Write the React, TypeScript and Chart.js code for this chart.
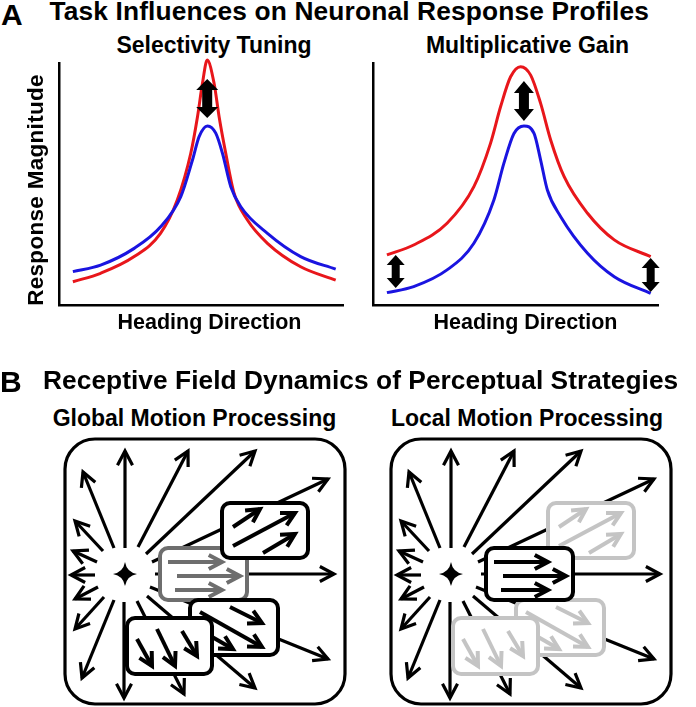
import React, { useEffect, useRef } from "react";
import { Chart, registerables } from "chart.js";

Chart.register(...registerables);

const FONT = '"Liberation Sans", Arial, Helvetica, sans-serif';
const RED = "#e8161b";
const BLUE = "#1a14e0";
const GRAY_DARK = "#6e6e6e";
const GRAY_LIGHT = "#c4c4c4";

// ---------------- Panel A data ----------------
const HEADING_MIN = -199;
const HEADING_MAX = 190;
const RESPONSE_MIN = 0;
const RESPONSE_MAX = 100;

// Selectivity tuning
const tuningRedHeading = [-180, -142, -96, -60, -37, -18.5, -9.3, -2.5, 4, 13.4, 20.3, 29.4, 40.8, 59.1, 86.5, 132, 180];
const tuningRedResponse = [9.6, 13.1, 20.0, 29.6, 43.4, 62.7, 77.8, 91.6, 101.2, 91.6, 77.8, 62.7, 46.2, 35.1, 25.5, 15.8, 10.3];
const tuningBlueHeading = [-180, -142, -96, -59.5, -32.2, -16.2, -7.1, 4.4, 15.7, 24.9, 36.3, 50, 86.5, 132, 180];
const tuningBlueResponse = [13.8, 16.5, 23.4, 32.4, 44.8, 59.9, 69.6, 74.0, 71.0, 62.7, 48.9, 40.6, 29.6, 20.0, 14.8];
const tuningArrowHeading = [4];
const tuningArrowTop = [93.4];
const tuningArrowBottom = [77.3];

// Multiplicative gain
const gainRedHeading = [-180, -143.5, -97.9, -61.3, -38.6, -24.9, -11.2, 2.5, 16.2, 29.8, 43.5, 61.9, 93.8, 130.3, 180];
const gainRedResponse = [20.7, 24.8, 33.8, 48.9, 66.8, 81.9, 94.3, 98.5, 95.0, 83.3, 68.2, 53.0, 37.9, 26.9, 20.0];
const gainBlueHeading = [-180, -143.5, -97.9, -61.3, -34, -20.3, -6.6, 7.1, 20.8, 29.8, 39, 57.2, 93.8, 130.3, 180];
const gainBlueResponse = [5.1, 7.6, 14.5, 25.5, 43.4, 58.6, 70.9, 74.0, 70.9, 59.9, 47.5, 36.5, 21.4, 11.7, 4.8];
const gainArrowHeading = [-168, 7, 180];
const gainArrowTop = [20.7, 92.6, 19.4];
const gainArrowBottom = [7.0, 76.0, 5.4];

// ---------------- Panel B data (diagram units) ----------------
const FIELD_W = 290;
const FIELD_H = 271;
const starCenter = [65, 138];
const frameRect = [5, 3, 285, 268];
// [tailX, tailY, tipX, tipY]
const radialArrows = [
  [65, 112, 65, 15],
  [54, 112, 23, 36],
  [43, 115, 15, 85],
  [37, 126, 13, 115],
  [35, 139, 11, 139],
  [38, 151, 15, 163],
  [44, 161, 15, 193],
  [54, 164, 22, 242],
  [64, 166, 64, 262],
  [77, 165, 124, 258],
  [87, 160, 195, 252],
  [90, 151, 268, 223],
  [95, 138, 274, 138],
  [92, 126, 268, 43],
  [86, 118, 195, 15],
  [78, 111, 128, 15],
];
const middleRect = [100, 112, 187, 164];
const middleArrows = [
  [108, 126, 162, 126],
  [117, 140, 180, 140],
  [115, 154, 162, 154],
];
const upperRect = [162, 67, 248, 122];
const upperArrows = [
  [173, 91, 200, 73],
  [173, 110, 235, 77],
  [203, 117, 235, 98],
];
const lowerRightRect = [130, 164, 218, 219];
const lowerRightArrows = [
  [170, 171, 202, 187],
  [140, 176, 202, 211],
  [140, 194, 173, 213],
];
const lowerLeftRect = [67, 182, 152, 238];
const lowerLeftArrows = [
  [77, 203, 92, 230],
  [97, 193, 115, 230],
  [122, 195, 137, 220],
];

// ---------------- helpers ----------------
function roundRectPath(ctx: CanvasRenderingContext2D, x0: number, y0: number, x1: number, y1: number, r: number) {
  ctx.beginPath();
  ctx.moveTo(x0 + r, y0);
  ctx.lineTo(x1 - r, y0);
  ctx.arcTo(x1, y0, x1, y0 + r, r);
  ctx.lineTo(x1, y1 - r);
  ctx.arcTo(x1, y1, x1 - r, y1, r);
  ctx.lineTo(x0 + r, y1);
  ctx.arcTo(x0, y1, x0, y1 - r, r);
  ctx.lineTo(x0, y0 + r);
  ctx.arcTo(x0, y0, x0 + r, y0, r);
  ctx.closePath();
}

function Txt(props: { text: string; x?: number; cx?: number; baseline: number; size: number; ls?: number }) {
  const { text, x, cx, baseline, size, ls = 0 } = props;
  const style: React.CSSProperties = {
    position: "absolute",
    top: baseline - 0.8465 * size,
    fontFamily: FONT,
    fontWeight: 700,
    fontSize: size,
    lineHeight: `${size}px`,
    letterSpacing: ls,
    whiteSpace: "nowrap",
    color: "#000",
  };
  if (cx !== undefined) {
    style.left = cx;
    style.transform = "translateX(-50%)";
  } else {
    style.left = x;
  }
  return <div style={style}>{text}</div>;
}

// ---------------- Panel A chart ----------------
function ResponseChart(props: {
  left: number;
  top: number;
  width: number;
  height: number;
  pad: { left: number; top: number; right: number; bottom: number };
  redX: number[];
  redY: number[];
  blueX: number[];
  blueY: number[];
  arrowX: number[];
  arrowTop: number[];
  arrowBottom: number[];
  headWidth: number[];
  headLen: number[];
  shaft: number[];
}) {
  const ref = useRef<HTMLCanvasElement>(null);
  useEffect(() => {
    const p = props;
    const arrowPlugin = {
      id: "doubleArrows",
      afterDatasetsDraw(chart: any) {
        const { ctx, scales } = chart;
        const xs = scales.x;
        const ys = scales.y;
        ctx.save();
        ctx.fillStyle = "#000";
        p.arrowX.forEach((hx, i) => {
          const x = xs.getPixelForValue(hx);
          const yt = ys.getPixelForValue(p.arrowTop[i]);
          const yb = ys.getPixelForValue(p.arrowBottom[i]);
          const W = p.headWidth[i] / 2;
          const L = p.headLen[i];
          const S = p.shaft[i] / 2;
          ctx.beginPath();
          ctx.moveTo(x, yt);
          ctx.lineTo(x + W, yt + L);
          ctx.lineTo(x + S, yt + L);
          ctx.lineTo(x + S, yb - L);
          ctx.lineTo(x + W, yb - L);
          ctx.lineTo(x, yb);
          ctx.lineTo(x - W, yb - L);
          ctx.lineTo(x - S, yb - L);
          ctx.lineTo(x - S, yt + L);
          ctx.lineTo(x - W, yt + L);
          ctx.closePath();
          ctx.fill();
        });
        ctx.restore();
      },
    };
    const chart = new Chart(ref.current as HTMLCanvasElement, {
      type: "line",
      data: {
        datasets: [
          {
            label: "Task B",
            data: p.blueX.map((x, i) => ({ x, y: p.blueY[i] })),
            borderColor: BLUE,
            borderWidth: 3,
            pointRadius: 0,
            cubicInterpolationMode: "monotone",
            clip: false,
          } as any,
          {
            label: "Task A",
            data: p.redX.map((x, i) => ({ x, y: p.redY[i] })),
            borderColor: RED,
            borderWidth: 3,
            pointRadius: 0,
            cubicInterpolationMode: "monotone",
            clip: false,
          } as any,
        ],
      },
      options: {
        responsive: false,
        animation: false,
        devicePixelRatio: 1,
        events: [],
        layout: { padding: p.pad },
        plugins: { legend: { display: false }, tooltip: { enabled: false }, title: { display: false } },
        scales: {
          x: {
            type: "linear",
            min: HEADING_MIN,
            max: HEADING_MAX,
            grid: { display: false, drawTicks: false },
            ticks: { display: false },
            border: { display: true, color: "#000", width: 2.5 },
          },
          y: {
            type: "linear",
            min: RESPONSE_MIN,
            max: RESPONSE_MAX,
            grid: { display: false, drawTicks: false },
            ticks: { display: false },
            border: { display: true, color: "#000", width: 2.5 },
          },
        },
      },
      plugins: [arrowPlugin],
    });
    return () => chart.destroy();
  }, []);
  return (
    <canvas
      ref={ref}
      width={props.width}
      height={props.height}
      style={{ position: "absolute", left: props.left, top: props.top, width: props.width, height: props.height }}
    />
  );
}

// ---------------- Panel B chart ----------------
const BOX_RECTS: Record<string, number[]> = {
  middle: middleRect,
  upper: upperRect,
  lowerRight: lowerRightRect,
  lowerLeft: lowerLeftRect,
};
const BOX_ARROWS: Record<string, number[][]> = {
  middle: middleArrows,
  upper: upperArrows,
  lowerRight: lowerRightArrows,
  lowerLeft: lowerLeftArrows,
};

function FieldChart(props: { left: number; top: number; order: string[]; colors: Record<string, string> }) {
  const ref = useRef<HTMLCanvasElement>(null);
  useEffect(() => {
    const datasets: any[] = [];
    let s = 0;
    const push = (seg: number[], color: string, width: number, head: number, extra: any) => {
      datasets.push({
        data: [
          { x: seg[0], y: seg[1] },
          { x: seg[2], y: seg[3] },
        ],
        showLine: true,
        borderColor: color,
        borderWidth: width,
        borderCapStyle: "butt",
        pointRadius: 0,
        pointHoverRadius: 0,
        order: -s,
        head,
        ...extra,
      });
      s++;
    };
    radialArrows.forEach((r) => push(r, "#000", 3.2, 16, {}));
    props.order.forEach((key) => {
      const color = props.colors[key];
      BOX_ARROWS[key].forEach((a, i) =>
        push(a, color, 4, 15, i === 0 ? { boxRect: BOX_RECTS[key], boxColor: color } : {})
      );
    });

    const diagramPlugin = {
      id: "fieldDiagram",
      beforeDatasetsDraw(chart: any) {
        const { ctx, scales } = chart;
        const x = scales.x;
        const y = scales.y;
        ctx.save();
        roundRectPath(
          ctx,
          x.getPixelForValue(frameRect[0]),
          y.getPixelForValue(frameRect[1]),
          x.getPixelForValue(frameRect[2]),
          y.getPixelForValue(frameRect[3]),
          30
        );
        ctx.lineWidth = 3.2;
        ctx.strokeStyle = "#000";
        ctx.stroke();
        ctx.restore();
      },
      beforeDatasetDraw(chart: any, args: any) {
        const ds: any = chart.data.datasets[args.index];
        if (!ds.boxRect) return;
        const { ctx, scales } = chart;
        const r = ds.boxRect;
        ctx.save();
        roundRectPath(
          ctx,
          scales.x.getPixelForValue(r[0]),
          scales.y.getPixelForValue(r[1]),
          scales.x.getPixelForValue(r[2]),
          scales.y.getPixelForValue(r[3]),
          8
        );
        ctx.fillStyle = "#fff";
        ctx.fill();
        ctx.lineWidth = 4;
        ctx.strokeStyle = ds.boxColor;
        ctx.stroke();
        ctx.restore();
      },
      afterDatasetDraw(chart: any, args: any) {
        const ds: any = chart.data.datasets[args.index];
        const pts = args.meta.data;
        if (!pts || pts.length < 2) return;
        const p0 = pts[0];
        const p1 = pts[1];
        const ang = Math.atan2(p1.y - p0.y, p1.x - p0.x);
        const a = (28 * Math.PI) / 180;
        const L = ds.head;
        const { ctx } = chart;
        ctx.save();
        ctx.beginPath();
        ctx.moveTo(p1.x - L * Math.cos(ang - a), p1.y - L * Math.sin(ang - a));
        ctx.lineTo(p1.x, p1.y);
        ctx.lineTo(p1.x - L * Math.cos(ang + a), p1.y - L * Math.sin(ang + a));
        ctx.lineWidth = ds.borderWidth;
        ctx.strokeStyle = ds.borderColor;
        ctx.lineJoin = "miter";
        ctx.lineCap = "butt";
        ctx.stroke();
        ctx.restore();
      },
      afterDatasetsDraw(chart: any) {
        const { ctx, scales } = chart;
        const cx = scales.x.getPixelForValue(starCenter[0]);
        const cy = scales.y.getPixelForValue(starCenter[1]);
        const R = 12;
        const w = 1.8;
        ctx.save();
        ctx.beginPath();
        ctx.moveTo(cx, cy - R);
        ctx.quadraticCurveTo(cx + w, cy - w, cx + R, cy);
        ctx.quadraticCurveTo(cx + w, cy + w, cx, cy + R);
        ctx.quadraticCurveTo(cx - w, cy + w, cx - R, cy);
        ctx.quadraticCurveTo(cx - w, cy - w, cx, cy - R);
        ctx.closePath();
        ctx.fillStyle = "#000";
        ctx.fill();
        ctx.restore();
      },
    };

    const chart = new Chart(ref.current as HTMLCanvasElement, {
      type: "scatter",
      data: { datasets },
      options: {
        responsive: false,
        animation: false,
        devicePixelRatio: 1,
        events: [],
        layout: { padding: 0 },
        plugins: { legend: { display: false }, tooltip: { enabled: false } },
        scales: {
          x: { type: "linear", min: 0, max: FIELD_W, display: false },
          y: { type: "linear", min: 0, max: FIELD_H, reverse: true, display: false },
        },
      },
      plugins: [diagramPlugin],
    });
    return () => chart.destroy();
  }, []);
  return (
    <canvas
      ref={ref}
      width={FIELD_W}
      height={FIELD_H}
      style={{ position: "absolute", left: props.left, top: props.top, width: FIELD_W, height: FIELD_H }}
    />
  );
}

export default function App() {
  return (
    <div
      style={{
        position: "absolute",
        left: 0,
        top: 0,
        width: 696,
        height: 707,
        overflow: "hidden",
        background: "#fff",
      }}
    >
      <Txt text="A" x={1} baseline={25} size={30} />
      <Txt text="Task Influences on Neuronal Response Profiles" x={49.5} baseline={20.5} size={26.3} ls={0.15} />
      <Txt text="Selectivity Tuning" cx={214} baseline={53} size={23} ls={0} />
      <Txt text="Multiplicative Gain" cx={527.5} baseline={53} size={23} ls={0} />

      <ResponseChart
        left={45}
        top={40}
        width={305}
        height={275}
        pad={{ left: 14, top: 23, right: 7, bottom: 10 }}
        redX={tuningRedHeading}
        redY={tuningRedResponse}
        blueX={tuningBlueHeading}
        blueY={tuningBlueResponse}
        arrowX={tuningArrowHeading}
        arrowTop={tuningArrowTop}
        arrowBottom={tuningArrowBottom}
        headWidth={[22]}
        headLen={[11]}
        shaft={[10]}
      />
      <ResponseChart
        left={360}
        top={40}
        width={310}
        height={275}
        pad={{ left: 13, top: 23, right: 12, bottom: 10 }}
        redX={gainRedHeading}
        redY={gainRedResponse}
        blueX={gainBlueHeading}
        blueY={gainBlueResponse}
        arrowX={gainArrowHeading}
        arrowTop={gainArrowTop}
        arrowBottom={gainArrowBottom}
        headWidth={[18, 20, 18]}
        headLen={[10, 12, 10]}
        shaft={[8, 10, 8]}
      />

      <div
        style={{
          position: "absolute",
          left: 36,
          top: 190,
          transform: "translate(-50%, -50%) rotate(-90deg)",
          fontFamily: FONT,
          fontWeight: 700,
          fontSize: 22.5,
          lineHeight: "22.5px",
          letterSpacing: 0.3,
          whiteSpace: "nowrap",
          color: "#000",
        }}
      >
        Response Magnitude
      </div>
      <Txt text="Heading Direction" cx={209.5} baseline={330} size={21.5} ls={0} />
      <Txt text="Heading Direction" cx={525.5} baseline={330} size={21.5} ls={0} />

      <Txt text="B" x={0} baseline={392} size={30} />
      <Txt text="Receptive Field Dynamics of Perceptual Strategies" x={43} baseline={389} size={26.3} ls={0.05} />
      <Txt text="Global Motion Processing" cx={194.5} baseline={426} size={23} ls={0} />
      <Txt text="Local Motion Processing" cx={527} baseline={426} size={23} ls={0} />

      <FieldChart
        left={60}
        top={436}
        order={["middle", "upper", "lowerRight", "lowerLeft"]}
        colors={{ middle: GRAY_DARK, upper: "#000", lowerRight: "#000", lowerLeft: "#000" }}
      />
      <FieldChart
        left={386}
        top={436}
        order={["upper", "lowerRight", "lowerLeft", "middle"]}
        colors={{ middle: "#000", upper: GRAY_LIGHT, lowerRight: GRAY_LIGHT, lowerLeft: GRAY_LIGHT }}
      />
    </div>
  );
}
